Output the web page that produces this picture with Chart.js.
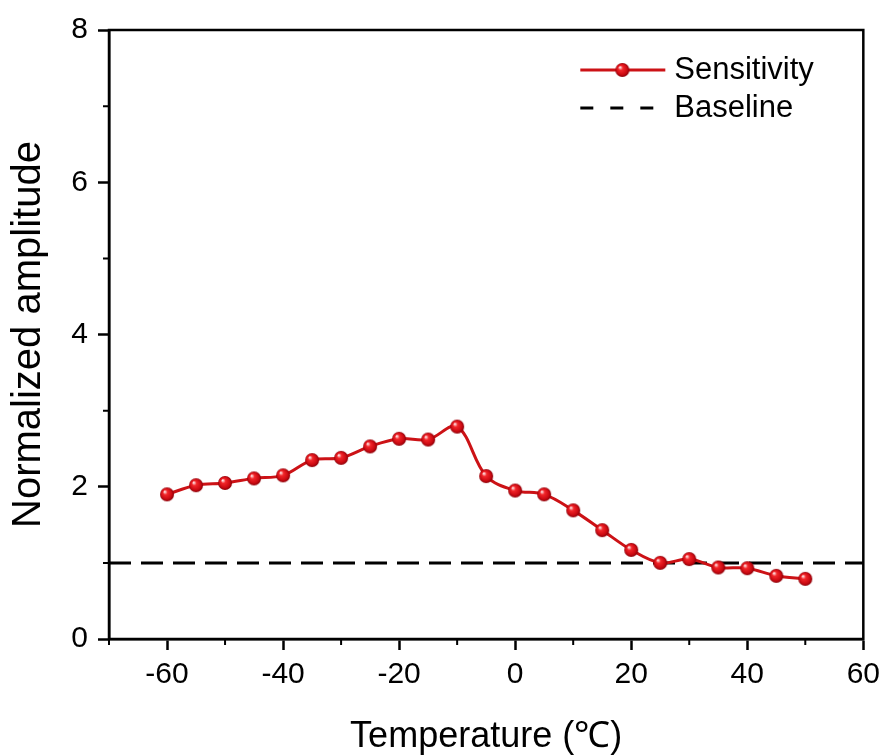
<!DOCTYPE html>
<html>
<head>
<meta charset="utf-8">
<script src="https://cdn.jsdelivr.net/npm/chart.js@4.4.1/dist/chart.umd.min.js"></script>
<style>
  html, body { margin: 0; padding: 0; background: #fff; }
  canvas { display: block; }
</style>
</head>
<body>
<canvas id="chart" width="887" height="756"></canvas>
<script>
// temperature sweep (deg C) and normalized amplitude
const temps = [-60, -55, -50, -45, -40, -35, -30, -25, -20, -15, -10, -5, 0, 5, 10, 15, 20, 25, 30, 35, 40, 45, 50];
const sensitivity = [1.90, 2.02, 2.05, 2.11, 2.15, 2.35, 2.38, 2.53, 2.63, 2.62, 2.79, 2.14, 1.95, 1.90, 1.69, 1.43, 1.17, 1.00, 1.05, 0.94, 0.93, 0.83, 0.79];
const baselineX = [-70, 60];
const baselineY = [1, 1];

const xTicks = [-60, -40, -20, 0, 20, 40, 60];
const xMinor = [-70, -50, -30, -10, 10, 30, 50];
const yTicks = [0, 2, 4, 6, 8];
const yMinor = [1, 3, 5, 7];

const FONT = "'Liberation Sans', Arial, sans-serif";
const RED = '#cc1216';

// shaded red ball used as the marker
function makeBall(r) {
  const c = document.createElement('canvas');
  c.width = c.height = 2 * r + 2;
  const g = c.getContext('2d');
  const cx = r + 1, cy = r + 1;
  const grad = g.createRadialGradient(cx - r * 0.35, cy - r * 0.4, r * 0.05, cx, cy, r);
  grad.addColorStop(0, '#fff0f0');
  grad.addColorStop(0.3, '#f2262a');
  grad.addColorStop(0.75, '#cc0a12');
  grad.addColorStop(1, '#8a0008');
  g.fillStyle = grad;
  g.beginPath();
  g.arc(cx, cy, r, 0, Math.PI * 2);
  g.fill();
  return c;
}
const ball = makeBall(7);

// box frame, minor ticks and the legend
const decor = {
  id: 'decor',
  afterDraw(chart) {
    const ctx = chart.ctx;
    const a = chart.chartArea;
    const xs = chart.scales.x, ys = chart.scales.y;
    ctx.save();
    ctx.strokeStyle = '#000';
    ctx.lineWidth = 2.5;
    ctx.strokeRect(a.left, a.top, a.right - a.left, a.bottom - a.top);

    ctx.lineWidth = 2;
    ctx.beginPath();
    xMinor.forEach(v => {
      const px = xs.getPixelForValue(v);
      ctx.moveTo(px, a.bottom);
      ctx.lineTo(px, a.bottom + 6);
    });
    yMinor.forEach(v => {
      const py = ys.getPixelForValue(v);
      ctx.moveTo(a.left - 6, py);
      ctx.lineTo(a.left, py);
    });
    ctx.stroke();

    // legend
    const lx = a.right - 283;
    const y1 = a.top + 40, y2 = a.top + 78;
    ctx.strokeStyle = RED;
    ctx.lineWidth = 3;
    ctx.beginPath();
    ctx.moveTo(lx, y1);
    ctx.lineTo(lx + 85, y1);
    ctx.stroke();
    ctx.drawImage(ball, lx + 42 - ball.width / 2, y1 - ball.height / 2);

    ctx.strokeStyle = '#000';
    ctx.lineWidth = 3;
    ctx.setLineDash([13, 17]);
    ctx.beginPath();
    ctx.moveTo(lx, y2);
    ctx.lineTo(lx + 80, y2);
    ctx.stroke();
    ctx.setLineDash([]);

    ctx.fillStyle = '#000';
    ctx.font = '31px ' + FONT;
    ctx.textBaseline = 'middle';
    ctx.textAlign = 'left';
    ctx.fillText('Sensitivity', lx + 94, y1);
    ctx.fillText('Baseline', lx + 94, y2);
    ctx.restore();
  }
};

new Chart(document.getElementById('chart'), {
  type: 'line',
  data: {
    datasets: [
      {
        label: 'Sensitivity',
        data: temps.map((t, i) => ({ x: t, y: sensitivity[i] })),
        borderColor: RED,
        borderWidth: 3,
        tension: 0.35,
        pointStyle: ball,
        pointRadius: 7,
        order: 0
      },
      {
        label: 'Baseline',
        data: baselineX.map((x, i) => ({ x: x, y: baselineY[i] })),
        borderColor: '#000',
        borderWidth: 3,
        borderDash: [22, 10],
        pointRadius: 0,
        order: 1
      }
    ]
  },
  options: {
    responsive: false,
    devicePixelRatio: 1,
    animation: false,
    layout: { padding: { top: 30, right: 22, left: 0, bottom: 0 } },
    plugins: { legend: { display: false }, tooltip: { enabled: false } },
    scales: {
      x: {
        type: 'linear',
        min: -70,
        max: 60,
        afterBuildTicks: s => { s.ticks = xTicks.map(v => ({ value: v })); },
        afterFit: s => { s.height = 117; },
        ticks: { color: '#000', font: { family: FONT, size: 30 }, padding: 7, maxRotation: 0 },
        grid: { drawOnChartArea: false, tickLength: 11, tickColor: '#000', tickWidth: 2.5 },
        border: { color: '#000', width: 2.5 },
        title: {
          display: true,
          text: 'Temperature (℃)',
          color: '#000',
          font: { family: FONT, size: 36, lineHeight: 1 },
          padding: { top: 0, bottom: 1 }
        }
      },
      y: {
        min: 0,
        max: 8,
        afterBuildTicks: s => { s.ticks = yTicks.map(v => ({ value: v })); },
        afterFit: s => { s.width = 109; },
        ticks: { color: '#000', font: { family: FONT, size: 30 }, padding: 10 },
        grid: { drawOnChartArea: false, tickLength: 11, tickColor: '#000', tickWidth: 2.5 },
        border: { color: '#000', width: 2.5 },
        title: {
          display: true,
          text: 'Normalized amplitude',
          color: '#000',
          font: { family: FONT, size: 40, lineHeight: 1 },
          padding: { top: 9, bottom: 0 }
        }
      }
    }
  },
  plugins: [decor]
});
</script>
</body>
</html>
